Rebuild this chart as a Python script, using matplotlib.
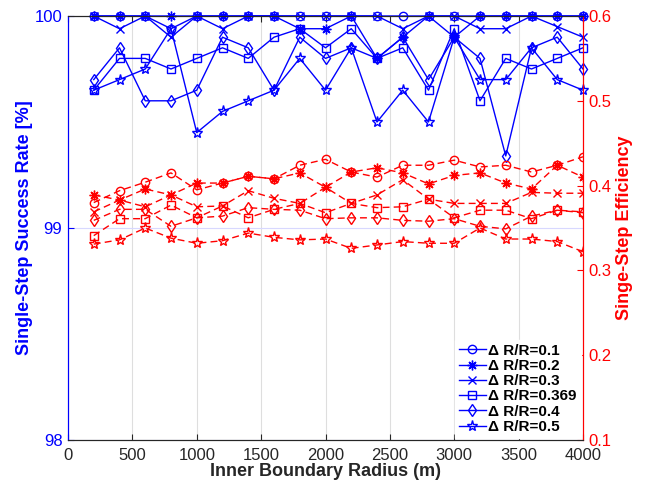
import matplotlib
matplotlib.use('Agg')
import matplotlib.pyplot as plt

plt.rcParams['font.family'] = ['Liberation Sans', 'DejaVu Sans']

# ---------------- data ----------------
radius = [200, 400, 600, 800, 1000, 1200, 1400, 1600, 1800, 2000,
          2200, 2400, 2600, 2800, 3000, 3200, 3400, 3600, 3800, 4000]

labels = ['Δ R/R=0.1', 'Δ R/R=0.2', 'Δ R/R=0.3', 'Δ R/R=0.369', 'Δ R/R=0.4', 'Δ R/R=0.5']

# single-step success rate [%] (left axis)
succ_01 = [100, 100, 100, 99.94, 100, 100, 100, 100, 100, 100,
           100, 100, 100, 100, 100, 100, 100, 100, 100, 100]
succ_02 = [100, 100, 100, 100, 100, 100, 100, 100, 99.94, 99.94,
           100, 99.8, 99.9, 100, 99.9, 100, 100, 100, 100, 100]
succ_03 = [100, 99.94, 100, 99.9, 100, 99.94, 100, 100, 100, 100,
           100, 100, 99.94, 100, 100, 99.94, 99.94, 100, 99.95, 99.9]
succ_0369 = [99.65, 99.8, 99.8, 99.75, 99.8, 99.85, 99.8, 99.9, 99.94, 99.85,
             99.94, 99.8, 99.85, 99.65, 99.94, 99.6, 99.8, 99.75, 99.8, 99.85]
succ_04 = [99.7, 99.85, 99.6, 99.6, 99.65, 99.9, 99.85, 99.65, 99.9, 99.8,
           99.85, 99.8, 99.9, 99.7, 99.9, 99.8, 99.34, 99.85, 99.9, 99.75]
succ_05 = [99.65, 99.7, 99.75, 99.94, 99.45, 99.55, 99.6, 99.65, 99.8, 99.65,
           99.85, 99.5, 99.65, 99.5, 99.9, 99.7, 99.7, 99.85, 99.7, 99.65]

# single-step efficiency (right axis)
eff_01 = [0.380, 0.394, 0.404, 0.415, 0.395, 0.403, 0.411, 0.408, 0.424, 0.431,
          0.416, 0.410, 0.424, 0.424, 0.430, 0.422, 0.424, 0.416, 0.424, 0.434]
eff_02 = [0.389, 0.383, 0.396, 0.389, 0.403, 0.403, 0.411, 0.408, 0.415, 0.398,
          0.416, 0.421, 0.415, 0.402, 0.412, 0.415, 0.403, 0.396, 0.424, 0.410]
eff_03 = [0.369, 0.383, 0.375, 0.389, 0.375, 0.376, 0.394, 0.385, 0.379, 0.398,
          0.379, 0.389, 0.407, 0.384, 0.379, 0.379, 0.379, 0.392, 0.391, 0.391]
eff_0369 = [0.341, 0.361, 0.361, 0.377, 0.362, 0.376, 0.362, 0.372, 0.379, 0.368,
            0.379, 0.374, 0.375, 0.384, 0.362, 0.371, 0.371, 0.361, 0.371, 0.369]
eff_04 = [0.359, 0.372, 0.372, 0.352, 0.362, 0.364, 0.374, 0.372, 0.371, 0.361,
          0.362, 0.362, 0.359, 0.358, 0.361, 0.352, 0.349, 0.364, 0.371, 0.368]
eff_05 = [0.331, 0.336, 0.350, 0.338, 0.332, 0.335, 0.344, 0.339, 0.336, 0.337,
          0.326, 0.330, 0.334, 0.332, 0.332, 0.350, 0.337, 0.337, 0.334, 0.322]

x_ticks = [0, 500, 1000, 1500, 2000, 2500, 3000, 3500, 4000]
left_ticks = [98, 99, 100]
right_ticks = [0.1, 0.2, 0.3, 0.4, 0.5, 0.6]
right_ticklabels = ['0.1', '0.2', '0.3', '0.4', '0.5', '0.6']

succ_series = [succ_01, succ_02, succ_03, succ_0369, succ_04, succ_05]
eff_series = [eff_01, eff_02, eff_03, eff_0369, eff_04, eff_05]

# ---------------- style ----------------
BLUE = '#0000ff'
RED = '#ff0000'
DARK = '#262626'
markers = ['o', (8, 2, 0), 'x', 's', 'd', '*']
msizes = [6, 7, 6, 6, 6, 8]

fig = plt.figure(figsize=(6.49, 4.84), dpi=100)
ax1 = fig.add_axes([68 / 649, 1 - 440 / 484, (583 - 68) / 649, (440 - 16) / 484])
ax2 = ax1.twinx()

handles = []
for ys, m, ms in zip(succ_series, markers, msizes):
    h, = ax1.plot(radius, ys, color=BLUE, lw=1.0, marker=m, ms=ms,
                  mfc='none', mec=BLUE, mew=1.0, clip_on=False, zorder=3)
    handles.append(h)

for ys, m, ms in zip(eff_series, markers, msizes):
    ax2.plot(radius, ys, color=RED, lw=1.0, ls=(0, (5, 3)), marker=m, ms=ms,
             mfc='none', mec=RED, mew=1.0, zorder=3)

ax1.set_xlim(0, 4000)
ax1.set_ylim(98, 100)
ax2.set_ylim(0.1, 0.6)
ax1.set_xticks(x_ticks)
ax1.set_yticks(left_ticks)
ax2.set_yticks(right_ticks)
ax2.set_yticklabels(right_ticklabels)

ax1.grid(axis='x', color='#dedede', lw=0.8)
ax1.grid(axis='y', color='#d8d8ff', lw=0.8)
ax1.set_axisbelow(True)

ax1.tick_params(axis='x', direction='in', top=True, length=4, colors=DARK,
                labelsize=12, pad=6)
ax1.tick_params(axis='y', direction='in', length=4, colors=BLUE, labelsize=12, pad=4)
ax2.tick_params(axis='y', direction='in', length=4, colors=RED, labelsize=12, pad=4)

for sp in ['top', 'bottom']:
    ax1.spines[sp].set_color(DARK)
    ax2.spines[sp].set_color(DARK)
ax1.spines['left'].set_color(BLUE)
ax2.spines['left'].set_color(BLUE)
ax1.spines['right'].set_color(RED)
ax2.spines['right'].set_color(RED)

ax1.set_xlabel('Inner Boundary Radius (m)', fontsize=13, fontweight='bold',
               color=DARK, labelpad=0)
ax1.set_ylabel('Single-Step Success Rate [%]', fontsize=13, fontweight='bold',
               color=BLUE, labelpad=1)
ax2.set_ylabel('Singe-Step Efficiency', fontsize=13, fontweight='bold',
               color=RED, labelpad=3)

leg = ax2.legend(handles, labels, loc='lower right', frameon=True,
                 prop={'size': 11, 'weight': 'bold'}, handlelength=1.8,
                 handletextpad=0.15, labelspacing=0.08, borderpad=0.25,
                 borderaxespad=0.15, fancybox=False)
leg.get_frame().set_edgecolor('white')
leg.get_frame().set_facecolor('white')
leg.get_frame().set_alpha(1.0)

fig.savefig('out.png', dpi=100)
